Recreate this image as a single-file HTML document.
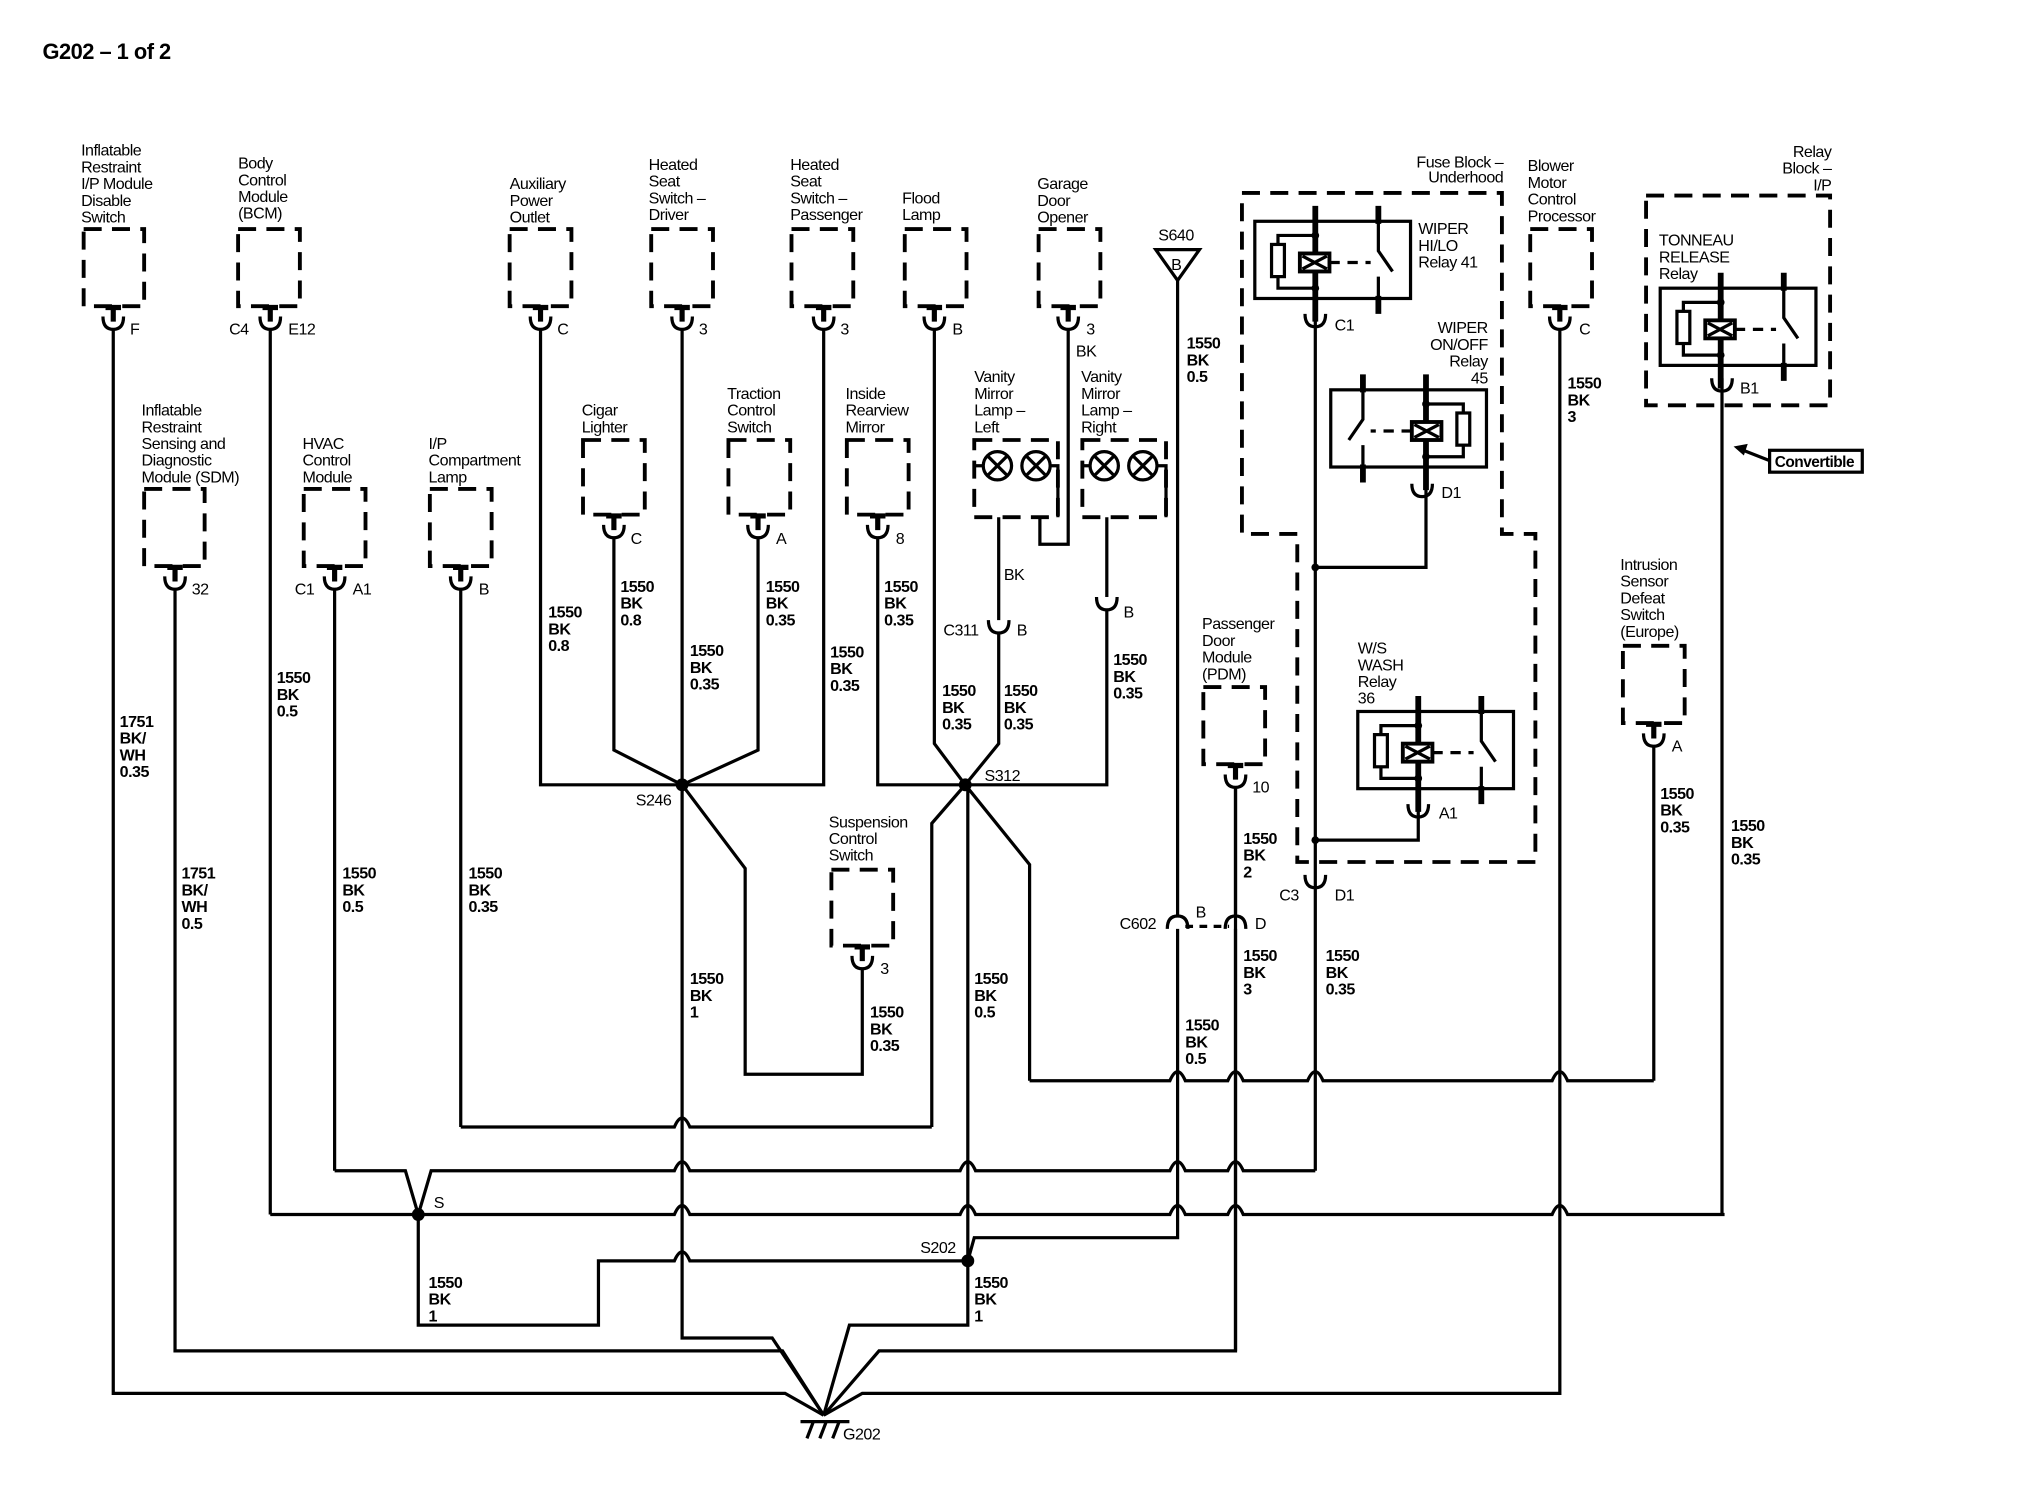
<!DOCTYPE html>
<html><head><meta charset="utf-8"><style>
html,body{margin:0;padding:0;background:#fff}
svg{display:block}
text{font-family:"Liberation Sans",sans-serif;font-size:12.5px;fill:#000;letter-spacing:-0.4px}
.b{font-weight:bold}
.w{fill:none;stroke:#000;stroke-width:2.5}
.d{fill:none;stroke:#000;stroke-width:3;stroke-dasharray:14 8}
</style></head><body>
<svg width="2018" height="1504" viewBox="0 0 1568 1169" preserveAspectRatio="none" xmlns="http://www.w3.org/2000/svg">
<defs>
<g id="cn"><path d="M0,0V12M-6,1H6" stroke="#000" stroke-width="4" fill="none"/><path d="M-8,8Q-8,18 0,18Q8,18 8,8" class="w"/></g>
<g id="cup"><path d="M-8,0Q-8,10 0,10Q8,10 8,0" class="w"/></g>
<g id="cap"><path d="M-8,10Q-8,0 0,0Q8,0 8,10" class="w"/></g>
<g id="relay">
<rect x="0" y="0" width="121" height="60" class="w" stroke-width="3"/>
<path d="M47,-12V78M96,-12V2M96,58V72" stroke="#000" stroke-width="4.5"/>
<path d="M47,0V60M96,0V23L107,39M96,43V60M47,11H18V18M18,43V52H47" class="w"/>
<rect x="13" y="18" width="10" height="25" class="w"/>
<rect x="35" y="25" width="23" height="14" fill="#fff" stroke="#000" stroke-width="3"/>
<path d="M37,27L56,37M37,37L56,27" class="w" stroke-width="2"/>
<path d="M58,32H90" class="w" stroke-dasharray="8 6"/>
<circle cx="47" cy="11" r="3"/><circle cx="47" cy="52" r="3"/>
</g>
<g id="lamp"><circle r="11" class="w"/><path d="M-8,-8L8,8M-8,8L8,-8" class="w"/></g>
</defs>

<text x="33" y="46" class="b" style="font-size:17px">G202 – 1 of 2</text>

<g class="d">
<rect x="65" y="178" width="47" height="60"/>
<rect x="185" y="178" width="48" height="60"/>
<rect x="396" y="178" width="48" height="60"/>
<rect x="506" y="178" width="48" height="60"/>
<rect x="615" y="178" width="48" height="60"/>
<rect x="703" y="178" width="48" height="60"/>
<rect x="807" y="178" width="48" height="60"/>
<rect x="1189" y="178" width="48" height="60"/>
<rect x="112" y="380" width="47" height="60"/>
<rect x="236" y="380" width="48" height="60"/>
<rect x="334" y="380" width="48" height="60"/>
<rect x="453" y="342" width="48" height="58"/>
<rect x="566" y="342" width="48" height="58"/>
<rect x="658" y="342" width="48" height="58"/>
<rect x="757" y="342" width="65" height="60"/>
<rect x="841" y="342" width="65" height="60"/>
<rect x="646" y="676" width="48" height="59"/>
<rect x="935" y="534" width="48" height="60"/>
<rect x="1261" y="502" width="48" height="60"/>
<rect x="1279" y="152" width="143" height="163"/>
<path d="M965,150H1167V415H1193V670H1008V415H965Z"/>
</g>

<use href="#cn" x="88" y="238"/><use href="#cn" x="210" y="238"/><use href="#cn" x="420" y="238"/>
<use href="#cn" x="530" y="238"/><use href="#cn" x="640" y="238"/><use href="#cn" x="726" y="238"/>
<use href="#cn" x="830" y="238"/><use href="#cn" x="1212" y="238"/>
<use href="#cn" x="136" y="440"/><use href="#cn" x="260" y="440"/><use href="#cn" x="358" y="440"/>
<use href="#cn" x="477" y="400"/><use href="#cn" x="589" y="400"/><use href="#cn" x="682" y="400"/>
<use href="#cn" x="670" y="735"/><use href="#cn" x="960" y="594"/><use href="#cn" x="1285" y="562"/>
<use href="#cup" x="776" y="482"/><use href="#cup" x="860" y="464"/>
<use href="#cup" x="1022" y="244"/><use href="#cup" x="1105" y="376"/><use href="#cup" x="1102" y="625"/>
<use href="#cup" x="1022" y="680"/><use href="#cup" x="1338" y="294"/>
<use href="#cap" x="915" y="712"/><use href="#cap" x="960" y="712"/>

<use href="#relay" transform="translate(975,172)"/>
<use href="#relay" transform="translate(1155,303) scale(-1,1)"/>
<use href="#relay" transform="translate(1055,553)"/>
<use href="#relay" transform="translate(1290,224)"/>

<use href="#lamp" x="775" y="362"/><use href="#lamp" x="805" y="362"/>
<use href="#lamp" x="858" y="362"/><use href="#lamp" x="888" y="362"/>
<path d="M764,362H757M816,362H822V402M847,362H841M899,362H906V402" class="w"/>

<polygon points="898,194 932,194 915,218" class="w"/>
<text x="910" y="210">B</text>

<g class="w">
<path d="M88,256V1083H610L640,1100"/>
<path d="M1212,256V1083H670L640,1100"/>
<path d="M136,458V1050H608L640,1100"/>
<path d="M960,612V1050H683L640,1100"/>
<path d="M530,256V1040H600L640,1100"/>
<path d="M752,610V1030H660L640,1100"/>
<path d="M210,256V944"/>
<path d="M260,458V910"/>
<path d="M358,458V876"/>
<path d="M420,256V610H640V256"/>
<path d="M477,418V583L530,610L589,583V418"/>
<path d="M530,610L579,675V835H670V753"/>
<path d="M726,256V578L750,610L776,578V492"/>
<path d="M776,402V482"/>
<path d="M682,418V610H860V474"/>
<path d="M860,402V464"/>
<path d="M724,876V640L750,610L800,672V840"/>
<path d="M830,256V423H808V402"/>
<path d="M915,218V712M915,722V962H757L752,980"/>
<path d="M960,612V712M960,722V1050"/>
<path d="M921,720H955" stroke-dasharray="6 5"/>
<path d="M1022,232V910"/>
<path d="M1108,376V441H1022"/>
<path d="M1102,625V653H1022"/>
<path d="M1338,294V944"/>
<path d="M1285,580V840"/>
<path d="M800,840H909Q915,826 921,840H954Q960,826 966,840H1016Q1022,826 1028,840H1206Q1212,826 1218,840H1285"/>
<path d="M358,876H524Q530,862 536,876H724"/>
<path d="M260,910H315L325,944L335,910H524Q530,896 536,910H746Q752,896 758,910H909Q915,896 921,910H954Q960,896 966,910H1022"/>
<path d="M210,944H524Q530,930 536,944H746Q752,930 758,944H909Q915,930 921,944H954Q960,930 966,944H1206Q1212,930 1218,944H1340"/>
<path d="M325,944V1030H465V980H524Q530,966 536,980H752"/>
<path d="M1375,358L1352,349"/>
<path d="M622,1105H660M627,1118L632,1105M637,1118L642,1105M647,1118L652,1105"/>
</g>
<polygon points="1347,347 1358,345 1355,354"/>
<rect x="1375" y="350" width="72" height="17" class="w" stroke-width="2"/>
<text x="1379" y="363" class="b" style="font-size:12px">Convertible</text>

<circle cx="530" cy="610" r="5"/><circle cx="750" cy="610" r="5"/><circle cx="325" cy="944" r="5"/>
<circle cx="752" cy="980" r="5"/><circle cx="1022" cy="441" r="3"/><circle cx="1022" cy="653" r="3"/>

<g>
<text x="63" y="121">Inflatable</text><text x="63" y="134">Restraint</text><text x="63" y="147">I/P Module</text><text x="63" y="160">Disable</text><text x="63" y="173">Switch</text>
<text x="185" y="131">Body</text><text x="185" y="144">Control</text><text x="185" y="157">Module</text><text x="185" y="170">(BCM)</text>
<text x="396" y="147">Auxiliary</text><text x="396" y="160">Power</text><text x="396" y="173">Outlet</text>
<text x="504" y="132">Heated</text><text x="504" y="145">Seat</text><text x="504" y="158">Switch –</text><text x="504" y="171">Driver</text>
<text x="614" y="132">Heated</text><text x="614" y="145">Seat</text><text x="614" y="158">Switch –</text><text x="614" y="171">Passenger</text>
<text x="701" y="158">Flood</text><text x="701" y="171">Lamp</text>
<text x="806" y="147">Garage</text><text x="806" y="160">Door</text><text x="806" y="173">Opener</text>
<text x="900" y="187">S640</text>
<text x="1168" y="130" text-anchor="end">Fuse Block –</text><text x="1168" y="142" text-anchor="end">Underhood</text>
<text x="1187" y="133">Blower</text><text x="1187" y="146">Motor</text><text x="1187" y="159">Control</text><text x="1187" y="172">Processor</text>
<text x="1423" y="122" text-anchor="end">Relay</text><text x="1423" y="135" text-anchor="end">Block –</text><text x="1423" y="148" text-anchor="end">I/P</text>
<text x="1102" y="182">WIPER</text><text x="1102" y="195">HI/LO</text><text x="1102" y="208">Relay 41</text>
<text x="1156" y="259" text-anchor="end">WIPER</text><text x="1156" y="272" text-anchor="end">ON/OFF</text><text x="1156" y="285" text-anchor="end">Relay</text><text x="1156" y="298" text-anchor="end">45</text>
<text x="1055" y="508">W/S</text><text x="1055" y="521">WASH</text><text x="1055" y="534">Relay</text><text x="1055" y="547">36</text>
<text x="1289" y="191">TONNEAU</text><text x="1289" y="204">RELEASE</text><text x="1289" y="217">Relay</text>
<text x="110" y="323">Inflatable</text><text x="110" y="336">Restraint</text><text x="110" y="349">Sensing and</text><text x="110" y="362">Diagnostic</text><text x="110" y="375">Module (SDM)</text>
<text x="235" y="349">HVAC</text><text x="235" y="362">Control</text><text x="235" y="375">Module</text>
<text x="333" y="349">I/P</text><text x="333" y="362">Compartment</text><text x="333" y="375">Lamp</text>
<text x="452" y="323">Cigar</text><text x="452" y="336">Lighter</text>
<text x="565" y="310">Traction</text><text x="565" y="323">Control</text><text x="565" y="336">Switch</text>
<text x="657" y="310">Inside</text><text x="657" y="323">Rearview</text><text x="657" y="336">Mirror</text>
<text x="757" y="297">Vanity</text><text x="757" y="310">Mirror</text><text x="757" y="323">Lamp –</text><text x="757" y="336">Left</text>
<text x="840" y="297">Vanity</text><text x="840" y="310">Mirror</text><text x="840" y="323">Lamp –</text><text x="840" y="336">Right</text>
<text x="644" y="643">Suspension</text><text x="644" y="656">Control</text><text x="644" y="669">Switch</text>
<text x="934" y="489">Passenger</text><text x="934" y="502">Door</text><text x="934" y="515">Module</text><text x="934" y="528">(PDM)</text>
<text x="1259" y="443">Intrusion</text><text x="1259" y="456">Sensor</text><text x="1259" y="469">Defeat</text><text x="1259" y="482">Switch</text><text x="1259" y="495">(Europe)</text>
<text x="101" y="260">F</text><text x="178" y="260">C4</text><text x="224" y="260">E12</text><text x="433" y="260">C</text>
<text x="543" y="260">3</text><text x="653" y="260">3</text><text x="740" y="260">B</text><text x="844" y="260">3</text><text x="836" y="277">BK</text>
<text x="1227" y="260">C</text><text x="1037" y="257">C1</text><text x="1120" y="387">D1</text><text x="1118" y="636">A1</text>
<text x="1352" y="306">B1</text><text x="149" y="462">32</text><text x="229" y="462">C1</text><text x="274" y="462">A1</text><text x="372" y="462">B</text>
<text x="490" y="423">C</text><text x="603" y="423">A</text><text x="696" y="423">8</text>
<text x="780" y="451">BK</text><text x="733" y="494">C311</text><text x="790" y="494">B</text><text x="873" y="480">B</text>
<text x="684" y="757">3</text><text x="973" y="616">10</text><text x="1299" y="584">A</text>
<text x="870" y="722">C602</text><text x="929" y="713">B</text><text x="975" y="722">D</text>
<text x="994" y="700">C3</text><text x="1037" y="700">D1</text>
<text x="494" y="626">S246</text><text x="765" y="607">S312</text><text x="337" y="939">S</text><text x="715" y="974">S202</text>
<text x="655" y="1119">G202</text>
</g>
<g class="b">
<text x="93" y="565">1751</text><text x="93" y="578">BK/</text><text x="93" y="591">WH</text><text x="93" y="604">0.35</text>
<text x="215" y="531">1550</text><text x="215" y="544">BK</text><text x="215" y="557">0.5</text>
<text x="141" y="683">1751</text><text x="141" y="696">BK/</text><text x="141" y="709">WH</text><text x="141" y="722">0.5</text>
<text x="266" y="683">1550</text><text x="266" y="696">BK</text><text x="266" y="709">0.5</text>
<text x="364" y="683">1550</text><text x="364" y="696">BK</text><text x="364" y="709">0.35</text>
<text x="426" y="480">1550</text><text x="426" y="493">BK</text><text x="426" y="506">0.8</text>
<text x="482" y="460">1550</text><text x="482" y="473">BK</text><text x="482" y="486">0.8</text>
<text x="536" y="510">1550</text><text x="536" y="523">BK</text><text x="536" y="536">0.35</text>
<text x="595" y="460">1550</text><text x="595" y="473">BK</text><text x="595" y="486">0.35</text>
<text x="645" y="511">1550</text><text x="645" y="524">BK</text><text x="645" y="537">0.35</text>
<text x="687" y="460">1550</text><text x="687" y="473">BK</text><text x="687" y="486">0.35</text>
<text x="732" y="541">1550</text><text x="732" y="554">BK</text><text x="732" y="567">0.35</text>
<text x="780" y="541">1550</text><text x="780" y="554">BK</text><text x="780" y="567">0.35</text>
<text x="865" y="517">1550</text><text x="865" y="530">BK</text><text x="865" y="543">0.35</text>
<text x="922" y="271">1550</text><text x="922" y="284">BK</text><text x="922" y="297">0.5</text>
<text x="1218" y="302">1550</text><text x="1218" y="315">BK</text><text x="1218" y="328">3</text>
<text x="1290" y="621">1550</text><text x="1290" y="634">BK</text><text x="1290" y="647">0.35</text>
<text x="1345" y="646">1550</text><text x="1345" y="659">BK</text><text x="1345" y="672">0.35</text>
<text x="536" y="765">1550</text><text x="536" y="778">BK</text><text x="536" y="791">1</text>
<text x="676" y="791">1550</text><text x="676" y="804">BK</text><text x="676" y="817">0.35</text>
<text x="757" y="765">1550</text><text x="757" y="778">BK</text><text x="757" y="791">0.5</text>
<text x="921" y="801">1550</text><text x="921" y="814">BK</text><text x="921" y="827">0.5</text>
<text x="966" y="656">1550</text><text x="966" y="669">BK</text><text x="966" y="682">2</text>
<text x="966" y="747">1550</text><text x="966" y="760">BK</text><text x="966" y="773">3</text>
<text x="1030" y="747">1550</text><text x="1030" y="760">BK</text><text x="1030" y="773">0.35</text>
<text x="333" y="1001">1550</text><text x="333" y="1014">BK</text><text x="333" y="1027">1</text>
<text x="757" y="1001">1550</text><text x="757" y="1014">BK</text><text x="757" y="1027">1</text>
</g>
</svg>
</body></html>
